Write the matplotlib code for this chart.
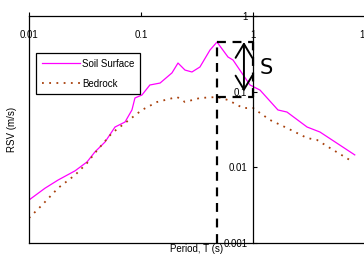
import numpy as np
import matplotlib
matplotlib.use("Agg")
import matplotlib.pyplot as plt
from matplotlib.ticker import FixedLocator, FixedFormatter, NullLocator

plt.rcParams['font.family'] = ['Liberation Sans', 'DejaVu Sans']
plt.rcParams['font.size'] = 7

# period (s) and response spectral velocity (m/s)
soil_T = [0.01, 0.0139, 0.0182, 0.0258, 0.033, 0.0388, 0.0477, 0.0586, 0.072, 0.083,
          0.0883, 0.102, 0.120, 0.148, 0.189, 0.214, 0.247, 0.285, 0.336, 0.413,
          0.477, 0.598, 0.663, 0.94, 1.155, 1.67, 2.01, 3.04, 3.96, 8.1]
soil_v = [0.0037, 0.0053, 0.0068, 0.0090, 0.0118, 0.016, 0.0216, 0.0341, 0.0397, 0.0573,
          0.0825, 0.0904, 0.1225, 0.130, 0.177, 0.239, 0.193, 0.182, 0.212, 0.355,
          0.453, 0.287, 0.262, 0.1225, 0.105, 0.0573, 0.0538, 0.0341, 0.0293, 0.0146]

bed_T = [0.01, 0.0131, 0.0182, 0.0258, 0.033, 0.0388, 0.0551, 0.072, 0.102, 0.139,
         0.210, 0.247, 0.336, 0.477, 0.598, 0.814, 1.0, 1.42, 2.01, 3.04, 3.73, 4.87, 7.8]
bed_v = [0.00214, 0.00318, 0.00533, 0.00792, 0.0114, 0.0155, 0.0284, 0.0385, 0.0573, 0.073,
         0.085, 0.073, 0.0825, 0.085, 0.0776, 0.0608, 0.0608, 0.0422, 0.0331, 0.0244,
         0.023, 0.018, 0.0118]

x_ticks = [0.01, 0.1, 1, 10]
x_labels = ['0.01', '0.1', '1', '10']
y_ticks = [0.001, 0.01, 0.1, 1]
y_labels = ['0.001', '0.01', '0.1', '1']

fig = plt.figure(figsize=(3.64, 2.56), dpi=100)
ax = fig.add_axes([29/364, 13/256, 336/364, 227/256])
ax.set_xscale('log')
ax.set_yscale('log')
ax.set_xlim(0.01, 10)
ax.set_ylim(0.001, 1)

ax.plot(soil_T, soil_v, color='#ff00ff', lw=0.9, label='Soil Surface')
ax.plot(bed_T, bed_v, color='#a8400c', lw=1.3, linestyle=(0, (1, 3)), label='Bedrock')

# dashed box from soil peak down to bedrock
i_pk = int(np.argmax(soil_v))
T_pk = soil_T[i_pk]
v_pk = soil_v[i_pk]
v_bed = bed_v[bed_T.index(T_pk)]
dash = dict(color='k', lw=1.6, linestyle=(0, (4, 3)))
ax.plot([T_pk, T_pk], [ax.get_ylim()[0], v_pk], **dash)
ax.plot([T_pk, 1], [v_pk, v_pk], **dash)
ax.plot([T_pk, 1], [v_bed, v_bed], **dash)
ax.plot([1, 1], [v_bed, v_pk], **dash)

ax.annotate('', xy=(0.83, v_bed), xytext=(0.83, v_pk),
            arrowprops=dict(arrowstyle='<->,head_length=0.5,head_width=0.3',
                            color='k', lw=1.4, shrinkA=0, shrinkB=4, mutation_scale=20))
ax.text(1.3, np.sqrt(v_pk * v_bed) * 1.05, 'S', fontsize=15, ha='center', va='center',
        family='DejaVu Sans')

# axes layout: y-axis at T=1, x ticks on top
ax.spines['left'].set_position(('data', 1))
ax.spines['right'].set_position(('axes', 0))
for s in ax.spines.values():
    s.set_linewidth(0.9)
ax.xaxis.tick_top()
ax.xaxis.set_major_locator(FixedLocator(x_ticks))
ax.xaxis.set_major_formatter(FixedFormatter(x_labels))
ax.xaxis.set_minor_locator(NullLocator())
ax.yaxis.set_major_locator(FixedLocator(y_ticks))
ax.yaxis.set_major_formatter(FixedFormatter(y_labels))
ax.yaxis.set_minor_locator(NullLocator())
ax.tick_params(axis='x', direction='out', length=3, pad=-20, labelsize=7)
ax.tick_params(axis='y', direction='in', length=3, pad=4, labelsize=7,
               left=True, right=False, labelleft=True, labelright=False)

ax.set_xlabel('Period, T (s)')
ax.xaxis.set_label_position('bottom')
ax.xaxis.set_label_coords(0.5, -0.005)
ax.set_ylabel('RSV (m/s)')
ax.yaxis.set_label_coords(-0.036, 0.5)

leg = ax.legend(loc='upper left', bbox_to_anchor=(0.021, 0.837), borderaxespad=0,
                fancybox=False, edgecolor='k', handlelength=3.9, fontsize=7,
                framealpha=1, borderpad=0.6, labelspacing=1.0, handletextpad=0.2)
leg.get_frame().set_linewidth(0.9)

fig.savefig('out.png', dpi=100)
